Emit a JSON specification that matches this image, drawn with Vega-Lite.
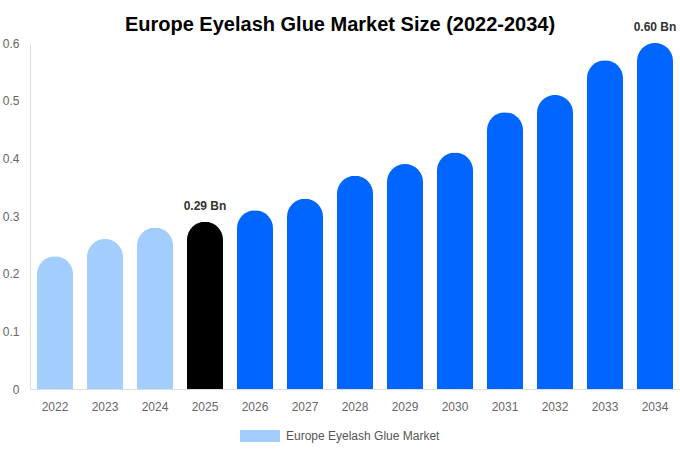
{
  "$schema": "https://vega.github.io/schema/vega-lite/v6.json",
  "width": 650,
  "height": 346,
  "autosize": {"type": "none"},
  "padding": {"left": 30, "top": 43, "right": 0, "bottom": 61},
  "background": "white",
  "title": {
    "text": "Europe Eyelash Glue Market Size (2022-2034)",
    "fontSize": 20,
    "fontWeight": "bold",
    "font": "Liberation Sans",
    "color": "#000000",
    "anchor": "middle",
    "dx": -15,
    "offset": -14
  },
  "config": {
    "view": {"stroke": null},
    "font": "Liberation Sans"
  },
  "data": {
    "values": [
      {"year": "2022", "value": 0.23, "group": "Europe Eyelash Glue Market", "label": ""},
      {"year": "2023", "value": 0.26, "group": "Europe Eyelash Glue Market", "label": ""},
      {"year": "2024", "value": 0.28, "group": "Europe Eyelash Glue Market", "label": ""},
      {"year": "2025", "value": 0.29, "group": "Base Year", "label": "0.29 Bn"},
      {"year": "2026", "value": 0.31, "group": "Forecast", "label": ""},
      {"year": "2027", "value": 0.33, "group": "Forecast", "label": ""},
      {"year": "2028", "value": 0.37, "group": "Forecast", "label": ""},
      {"year": "2029", "value": 0.39, "group": "Forecast", "label": ""},
      {"year": "2030", "value": 0.41, "group": "Forecast", "label": ""},
      {"year": "2031", "value": 0.48, "group": "Forecast", "label": ""},
      {"year": "2032", "value": 0.51, "group": "Forecast", "label": ""},
      {"year": "2033", "value": 0.57, "group": "Forecast", "label": ""},
      {"year": "2034", "value": 0.6, "group": "Forecast", "label": "0.60 Bn"}
    ]
  },
  "encoding": {
    "x": {
      "field": "year",
      "type": "ordinal",
      "title": null,
      "scale": {"paddingInner": 0.28, "paddingOuter": 0.14},
      "axis": {
        "labelAngle": 0,
        "labelColor": "#666666",
        "labelFontSize": 12,
        "labelPadding": 12,
        "ticks": false,
        "domainColor": "#dddddd",
        "grid": false
      }
    },
    "y": {
      "field": "value",
      "type": "quantitative",
      "title": null,
      "scale": {"domain": [0, 0.6]},
      "axis": {
        "values": [0, 0.1, 0.2, 0.3, 0.4, 0.5, 0.6],
        "format": ".1~f",
        "labelColor": "#666666",
        "labelFontSize": 12,
        "labelPadding": 11,
        "ticks": false,
        "domainColor": "#dddddd",
        "grid": false
      }
    }
  },
  "layer": [
    {
      "mark": {"type": "bar", "cornerRadiusTopLeft": 18, "cornerRadiusTopRight": 18},
      "encoding": {
        "color": {
          "field": "group",
          "type": "nominal",
          "scale": {
            "domain": ["Europe Eyelash Glue Market", "Base Year", "Forecast"],
            "range": ["#a3cdfc", "#000000", "#0066ff"]
          },
          "legend": {
            "values": ["Europe Eyelash Glue Market"],
            "title": null,
            "orient": "none",
            "legendX": 210,
            "legendY": 373,
            "direction": "horizontal",
            "symbolType": "M-1,-0.3L1,-0.3L1,0.3L-1,0.3Z",
            "symbolSize": 1600,
            "symbolStrokeWidth": 0,
            "labelColor": "#555555",
            "labelFontSize": 12,
            "labelOffset": 6
          }
        }
      }
    },
    {
      "transform": [{"filter": "datum.label != ''"}],
      "mark": {
        "type": "text",
        "dy": -9,
        "baseline": "bottom",
        "fontSize": 12,
        "fontWeight": "bold",
        "color": "#333333"
      },
      "encoding": {"text": {"field": "label"}}
    }
  ]
}
